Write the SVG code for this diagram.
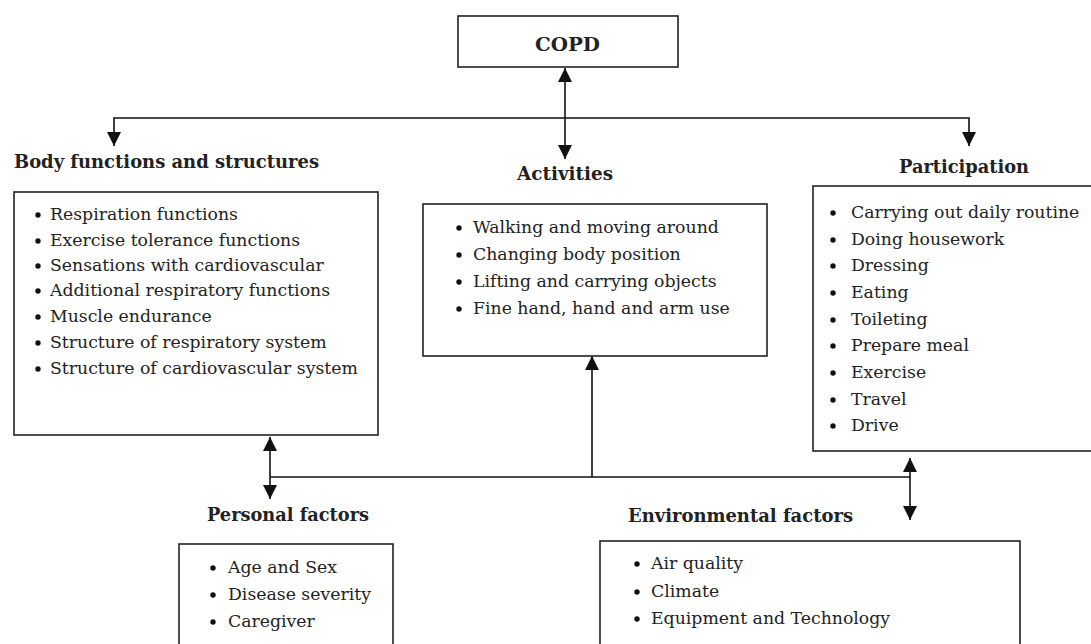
<svg xmlns="http://www.w3.org/2000/svg" width="1091" height="644" viewBox="0 0 1091 644">
<style>
.box{fill:#fff;stroke:#222;stroke-width:1.6}
.con{fill:none;stroke:#111;stroke-width:1.6}
.h{font-family:"DejaVu Serif","Liberation Serif",serif;font-weight:bold;font-size:18px;fill:#222}
.t{font-family:"DejaVu Serif","Liberation Serif",serif;font-size:17.3px;fill:#222}
.b{fill:#111}
</style>
<defs>
<marker id="ah" markerUnits="userSpaceOnUse" markerWidth="14" markerHeight="14" refX="14" refY="7" orient="auto-start-reverse" viewBox="0 0 14 14">
<path d="M0,0 L14,7 L0,14 z" fill="#111"/>
</marker>
</defs>
<rect width="1091" height="644" fill="#fff"/>
<g id="connectors">
<path class="con" d="M565,68 V159" marker-start="url(#ah)" marker-end="url(#ah)"/>
<path class="con" d="M114,146 V118 H969 V146" marker-start="url(#ah)" marker-end="url(#ah)"/>
<path class="con" d="M270,437 V499" marker-start="url(#ah)" marker-end="url(#ah)"/>
<path class="con" d="M270,477 H910"/>
<path class="con" d="M592,477 V356" marker-end="url(#ah)"/>
<path class="con" d="M910,458 V520" marker-start="url(#ah)" marker-end="url(#ah)"/>
</g>
<g id="copd">
<rect class="box" x="458" y="16" width="220" height="51"/>
<text class="h" x="535" y="51" font-size="22" textLength="65" lengthAdjust="spacingAndGlyphs">COPD</text>
</g>
<g id="body">
<text class="h" x="14" y="168" textLength="305" lengthAdjust="spacingAndGlyphs">Body functions and structures</text>
<rect class="box" x="14" y="192" width="364" height="243"/>
<g class="b"><circle cx="38" cy="215" r="2.7"/><circle cx="38" cy="241" r="2.7"/><circle cx="38" cy="266" r="2.7"/><circle cx="38" cy="291" r="2.7"/><circle cx="38" cy="317" r="2.7"/><circle cx="38" cy="343" r="2.7"/><circle cx="38" cy="369" r="2.7"/></g>
<text class="t" x="50" y="220">Respiration functions</text>
<text class="t" x="50" y="246">Exercise tolerance functions</text>
<text class="t" x="50" y="271">Sensations with cardiovascular</text>
<text class="t" x="50" y="296">Additional respiratory functions</text>
<text class="t" x="50" y="322">Muscle endurance</text>
<text class="t" x="50" y="348">Structure of respiratory system</text>
<text class="t" x="50" y="374">Structure of cardiovascular system</text>
</g>
<g id="activities">
<text class="h" x="517" y="180" textLength="96" lengthAdjust="spacingAndGlyphs">Activities</text>
<rect class="box" x="423" y="204" width="344" height="152"/>
<g class="b"><circle cx="459" cy="228" r="2.7"/><circle cx="459" cy="255" r="2.7"/><circle cx="459" cy="282" r="2.7"/><circle cx="459" cy="309" r="2.7"/></g>
<text class="t" x="473" y="233">Walking and moving around</text>
<text class="t" x="473" y="260">Changing body position</text>
<text class="t" x="473" y="287">Lifting and carrying objects</text>
<text class="t" x="473" y="314">Fine hand, hand and arm use</text>
</g>
<g id="participation">
<text class="h" x="899" y="173" textLength="130" lengthAdjust="spacingAndGlyphs">Participation</text>
<rect class="box" x="813" y="186" width="290" height="265"/>
<g class="b"><circle cx="833" cy="213" r="2.7"/><circle cx="833" cy="240" r="2.7"/><circle cx="833" cy="266" r="2.7"/><circle cx="833" cy="293" r="2.7"/><circle cx="833" cy="320" r="2.7"/><circle cx="833" cy="346" r="2.7"/><circle cx="833" cy="373" r="2.7"/><circle cx="833" cy="400" r="2.7"/><circle cx="833" cy="426" r="2.7"/></g>
<text class="t" x="851" y="218">Carrying out daily routine</text>
<text class="t" x="851" y="245">Doing housework</text>
<text class="t" x="851" y="271">Dressing</text>
<text class="t" x="851" y="298">Eating</text>
<text class="t" x="851" y="325">Toileting</text>
<text class="t" x="851" y="351">Prepare meal</text>
<text class="t" x="851" y="378">Exercise</text>
<text class="t" x="851" y="405">Travel</text>
<text class="t" x="851" y="431">Drive</text>
</g>
<g id="personal">
<text class="h" x="207" y="521" textLength="162" lengthAdjust="spacingAndGlyphs">Personal factors</text>
<rect class="box" x="179" y="544" width="214" height="120"/>
<g class="b"><circle cx="213" cy="568" r="2.7"/><circle cx="213" cy="595" r="2.7"/><circle cx="213" cy="622" r="2.7"/></g>
<text class="t" x="228" y="573">Age and Sex</text>
<text class="t" x="228" y="600">Disease severity</text>
<text class="t" x="228" y="627">Caregiver</text>
</g>
<g id="environmental">
<text class="h" x="628" y="522" textLength="225" lengthAdjust="spacingAndGlyphs">Environmental factors</text>
<rect class="box" x="600" y="541" width="420" height="120"/>
<g class="b"><circle cx="637" cy="564" r="2.7"/><circle cx="637" cy="592" r="2.7"/><circle cx="637" cy="619" r="2.7"/></g>
<text class="t" x="651" y="569">Air quality</text>
<text class="t" x="651" y="597">Climate</text>
<text class="t" x="651" y="624">Equipment and Technology</text>
</g>
</svg>
